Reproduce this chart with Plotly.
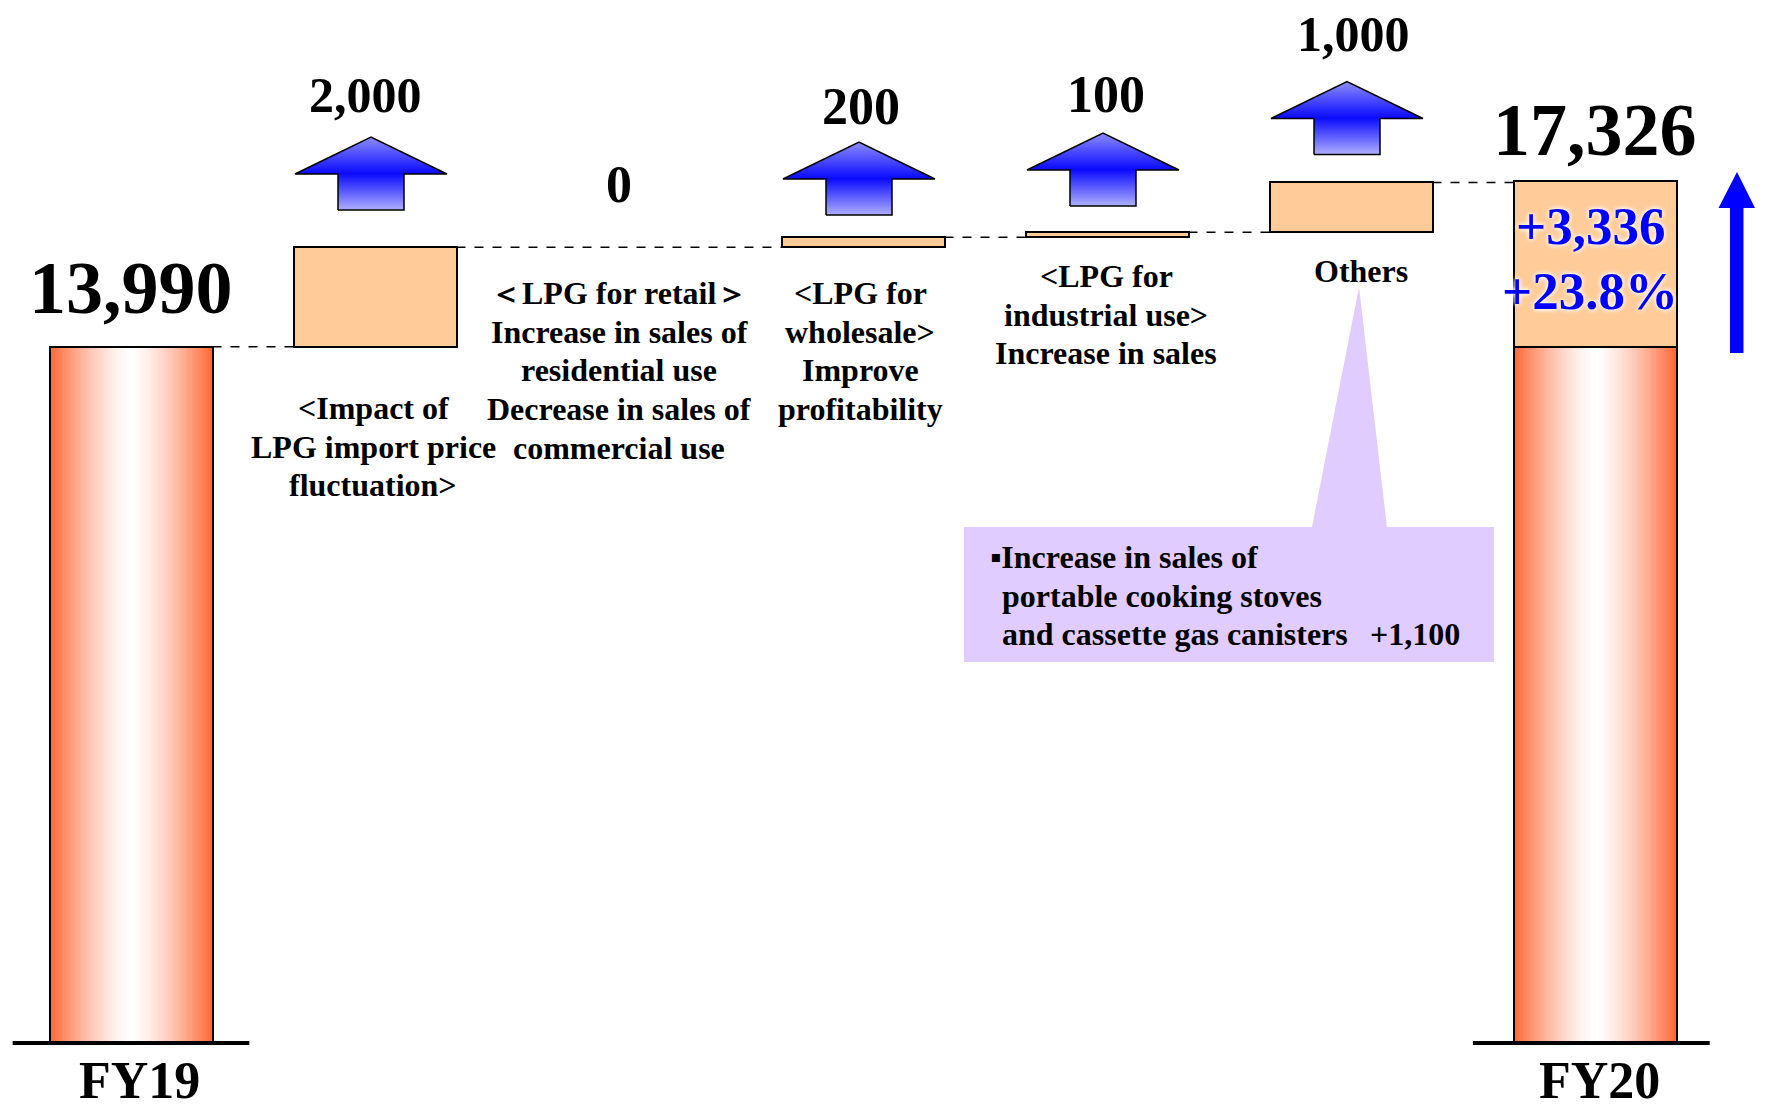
import plotly.graph_objects as go

# ---------------- data ----------------
start_label = "FY19"
end_label = "FY20"
start_value = 13990
end_value = 17326
step_values = [2000, 0, 200, 100, 1000]
step_descriptions = [
    ["<Impact of", "LPG import price", "fluctuation>"],
    ["＜LPG for retail＞", "Increase in sales of", "residential use",
     "Decrease in sales of", "commercial use"],
    ["<LPG for", "wholesale>", "Improve", "profitability"],
    ["<LPG for", "industrial use>", "Increase in sales"],
    ["Others"],
]
change_value = 3336
change_pct = 23.8
callout_lines = ["▪Increase in sales of", "portable cooking stoves",
                 "and cassette gas canisters"]
callout_value = 1100

# ---------------- layout constants (pixels) ----------------
W, H = 1768, 1110
X0_PX, STEP_PX = 131, 244          # centre of first column, column pitch
BASE_PX = 1043                      # pixel row of the zero line
PX_PER_UNIT = 0.049771              # vertical scale
BAR_W = 0.668                       # bar width in category units
FONT = "Liberation Serif, Times New Roman, serif"

PEACH = "#FFCC99"
ORANGE = (255, 102, 51)


def xd(px):
    return (px - X0_PX) / STEP_PX


def yd(py):
    return (BASE_PX - py) / PX_PER_UNIT


n_steps = len(step_values)
x_start = 0
x_steps = list(range(1, n_steps + 1))
x_end = n_steps + 1

fig = go.Figure()


# ---- horizontally graded total bars, built from thin slices ----
def gradient_bar(xc, base, top, n=70):
    w = BAR_W / n
    offsets, colors = [], []
    for i in range(n):
        offsets.append(-BAR_W / 2 + i * w)
        d = abs((i + 0.5) / n * 2 - 1)
        s = d ** 1.4
        r = round(255 - (255 - ORANGE[0]) * s)
        g = round(255 - (255 - ORANGE[1]) * s)
        b = round(255 - (255 - ORANGE[2]) * s)
        colors.append(f"rgb({r},{g},{b})")
    return go.Bar(
        x=[xc] * n, y=[top - base] * n, base=[base] * n,
        offset=offsets, width=[w * 1.2] * n,
        marker=dict(color=colors, line=dict(width=0)),
        hoverinfo="skip", showlegend=False,
    )


fig.add_trace(gradient_bar(x_start, 0, start_value))
fig.add_trace(gradient_bar(x_end, 0, start_value))

# upper part of the final bar (the total change)
fig.add_trace(go.Bar(
    x=[x_end], y=[end_value - start_value], base=[start_value], width=BAR_W,
    marker=dict(color=PEACH, line=dict(color="black", width=2)),
    hoverinfo="skip", showlegend=False,
))

# outlines of the two total bars
fig.add_trace(go.Bar(
    x=[x_start, x_end], y=[start_value, end_value], base=[0, 0], width=BAR_W,
    marker=dict(color="rgba(0,0,0,0)", line=dict(color="black", width=2)),
    hoverinfo="skip", showlegend=False,
))

# ---- step boxes ----
bases = []
level = start_value
for v in step_values:
    bases.append(level)
    level += v
fig.add_trace(go.Bar(
    x=x_steps, y=step_values, base=bases, width=BAR_W,
    marker=dict(color=PEACH,
                line=dict(color="black", width=[2 if v else 0 for v in step_values])),
    hoverinfo="skip", showlegend=False,
))

# ---- dashed connectors between visible boxes ----
drawn = [(x_start, start_value)]
for xi, b, v in zip(x_steps, bases, step_values):
    if v:
        drawn.append((xi, b + v))
drawn.append((x_end, None))
cx, cy = [], []
for (xa, lvl), (xb, _) in zip(drawn[:-1], drawn[1:]):
    cx += [xa + BAR_W / 2, xb - BAR_W / 2, None]
    cy += [lvl, lvl, None]
fig.add_trace(go.Scatter(
    x=cx, y=cy, mode="lines",
    line=dict(color="black", width=1.5, dash="dash"),
    hoverinfo="skip", showlegend=False,
))

# ---- ground lines under the totals ----
gx = [x_start - 0.485, x_start + 0.485, None, x_end - 0.5, x_end + 0.47]
fig.add_trace(go.Scatter(
    x=gx, y=[0, 0, None, 0, 0], mode="lines",
    line=dict(color="black", width=4),
    hoverinfo="skip", showlegend=False,
))

# ---- gradient up-arrows above the step boxes ----
arrow_bottom_px = [210, None, 215, 206, 154.5]
ARROW_HEAD_HALF, ARROW_SHAFT_HALF = 76, 33
ARROW_H, ARROW_HEAD_H = 73, 37
for xi, yb in zip(x_steps, arrow_bottom_px):
    if yb is None:
        continue
    cpx = X0_PX + xi * STEP_PX - 4
    pts = [
        (cpx - ARROW_SHAFT_HALF, yb), (cpx + ARROW_SHAFT_HALF, yb),
        (cpx + ARROW_SHAFT_HALF, yb - ARROW_H + ARROW_HEAD_H),
        (cpx + ARROW_HEAD_HALF, yb - ARROW_H + ARROW_HEAD_H),
        (cpx, yb - ARROW_H),
        (cpx - ARROW_HEAD_HALF, yb - ARROW_H + ARROW_HEAD_H),
        (cpx - ARROW_SHAFT_HALF, yb - ARROW_H + ARROW_HEAD_H),
        (cpx - ARROW_SHAFT_HALF, yb),
    ]
    fig.add_trace(go.Scatter(
        x=[xd(p[0]) for p in pts], y=[yd(p[1]) for p in pts],
        mode="lines", fill="toself",
        fillgradient=dict(type="vertical", colorscale=[
            [0.0, "rgb(175,175,255)"], [0.5, "rgb(10,10,255)"],
            [1.0, "rgb(140,140,255)"]]),
        line=dict(color="black", width=1.5),
        hoverinfo="skip", showlegend=False,
    ))

annotations = []


def add_text(x, y, text, size, color="black", xanchor="center", shadow=None):
    font = dict(family=FONT, size=size, color=color, weight="bold")
    if shadow:
        font["shadow"] = shadow
    annotations.append(dict(
        x=x, y=y, xref="x", yref="y", text=text, showarrow=False,
        xanchor=xanchor, yanchor="middle", font=font,
    ))


# step values above the arrows
label_dx_px = [-10, 0, -2, -1, 2]
label_y_px = [95, 184, 106, 94, 34]
for xi, v, dx, py in zip(x_steps, step_values, label_dx_px, label_y_px):
    size = 50 if v >= 1000 else 52
    add_text(xi + dx / STEP_PX, yd(py), f"{v:,}", size)

# totals
add_text(x_start, yd(288), f"{start_value:,}", 74)
add_text(x_end, yd(130), f"{end_value:,}", 74)

# category names below the ground lines
add_text(xd(139), yd(1080), start_label, 52)
add_text(xd(1599), yd(1080), end_label, 52)

# change inside the final bar
glow = "0px 0px 5px white, 0px 0px 5px white"
add_text(xd(1590), yd(226), f"+{change_value:,}", 53, color="#0000FF", shadow=glow)
add_text(xd(1590), yd(291), f"+{change_pct}%", 53, color="#0000FF", shadow=glow)

# step descriptions
desc_dx_px = [-2, 0, -3, -1, 10]
desc_top_px = [408, 293, 293, 276, 270.6]
LINE_PX = 38.7
for xi, lines, dx, top in zip(x_steps, step_descriptions, desc_dx_px, desc_top_px):
    for k, line in enumerate(lines):
        add_text(xi + dx / STEP_PX, yd(top + k * LINE_PX), line, 32)

# callout text
callout_y_px = [557, 595.5, 634]
for k, (line, py) in enumerate(zip(callout_lines, callout_y_px)):
    add_text(xd(988 if k == 0 else 1000), yd(py), line, 32, xanchor="left")
add_text(xd(1368), yd(634), f"+{callout_value:,}", 32, xanchor="left")


def pth(points):
    return "M " + " L ".join(f"{px / W:.5f},{1 - py / H:.5f}" for px, py in points) + " Z"


shapes = [
    # callout box with its pointer towards "Others"
    dict(type="path", xref="paper", yref="paper",
         path=pth([(964, 527), (1312, 527), (1359, 287), (1387, 527),
                   (1494, 527), (1494, 662), (964, 662)]),
         fillcolor="#E1CCFF", line=dict(width=0), layer="below"),
    # solid blue arrow beside the final bar
    dict(type="path", xref="paper", yref="paper",
         path=pth([(1730, 353), (1743.5, 353), (1743.5, 208), (1755, 208),
                   (1737, 172), (1718.5, 208), (1730, 208)]),
         fillcolor="#0000FF", line=dict(width=0)),
]

fig.update_layout(
    width=W, height=H,
    margin=dict(l=0, r=0, t=0, b=0),
    paper_bgcolor="white", plot_bgcolor="white",
    barmode="overlay", bargap=0,
    showlegend=False,
    xaxis=dict(range=[xd(0), xd(W)], visible=False, fixedrange=True),
    yaxis=dict(range=[yd(H), yd(0)], visible=False, fixedrange=True),
    annotations=annotations,
    shapes=shapes,
)

fig.write_html("out.html")
